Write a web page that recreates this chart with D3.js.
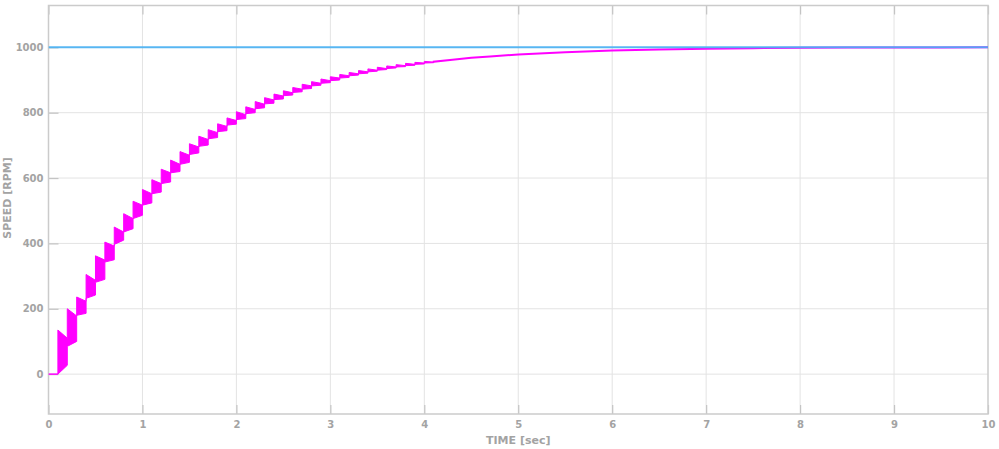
<!DOCTYPE html>
<html>
<head>
<meta charset="utf-8">
<script src="https://cdn.jsdelivr.net/npm/d3@7"></script>
<style>
  html, body { margin: 0; padding: 0; background: #fff; }
  svg { display: block; }
  text { font-family: "DejaVu Sans", Verdana, sans-serif; font-weight: bold; fill: #a3a3a3; }
</style>
</head>
<body>
<svg id="chart" width="999" height="449"></svg>
<script>
// ---- data ----
const xTicks = [0, 1, 2, 3, 4, 5, 6, 7, 8, 9, 10];
const yTicks = [0, 200, 400, 600, 800, 1000];
const xTitle = "TIME [sec]";
const yTitle = "SPEED [RPM]";

// reference (set-point) speed
const refTime = [0, 10];
const refSpeed = [1000, 1000];

// oscillating speed band: one block per control period
const blockStart = [0.1, 0.2, 0.3, 0.4, 0.5, 0.6, 0.7, 0.8, 0.9, 1.0,
                    1.1, 1.2, 1.3, 1.4, 1.5, 1.6, 1.7, 1.8, 1.9, 2.0,
                    2.1, 2.2, 2.3, 2.4, 2.5, 2.6, 2.7, 2.8, 2.9, 3.0,
                    3.1, 3.2, 3.3, 3.4, 3.5, 3.6, 3.7, 3.8, 3.9, 4.0];
const blockEnd   = [0.2, 0.3, 0.4, 0.5, 0.6, 0.7, 0.8, 0.9, 1.0, 1.1,
                    1.2, 1.3, 1.4, 1.5, 1.6, 1.7, 1.8, 1.9, 2.0, 2.1,
                    2.2, 2.3, 2.4, 2.5, 2.6, 2.7, 2.8, 2.9, 3.0, 3.1,
                    3.2, 3.3, 3.4, 3.5, 3.6, 3.7, 3.8, 3.9, 4.0, 4.1];
const topStart = [135, 200, 236, 305, 362, 404, 450, 491, 529, 565,
                  595, 627, 655, 681, 705, 728, 748, 766, 784, 803,
                  818, 834, 846, 857, 867, 877, 887, 895, 903, 910,
                  917, 923, 929, 934, 939, 943, 947, 951, 954, 957];
const topEnd   = [110, 178, 223, 287, 349, 392, 435, 476, 517, 552,
                  583, 616, 642, 670, 695, 718, 739, 758, 776, 794,
                  810, 826, 839, 851, 861, 872, 882, 890, 898, 906,
                  913, 919, 925, 930, 935, 940, 944, 948, 952, 955];
const botStart = [0, 85, 180, 232, 281, 343, 397, 435, 476, 517,
                  552, 583, 616, 642, 672, 697, 720, 742, 762, 779,
                  797, 812, 827, 840, 852, 862, 872, 882, 890, 898,
                  906, 913, 919, 925, 930, 935, 940, 944, 948, 952];
const botEnd   = [27, 100, 186, 242, 290, 350, 410, 445, 486, 524,
                  557, 588, 620, 648, 677, 701, 724, 745, 765, 782,
                  800, 815, 829, 842, 854, 864, 874, 884, 892, 900,
                  908, 915, 921, 927, 932, 937, 941, 945, 949, 953];

// idle start and settled tail of the speed
const startTime = [0, 0.1];
const startSpeed = [0, 0];
const tailTime  = [4.1, 4.3, 4.5, 4.7, 5.0, 5.5, 6.0, 6.5, 7.0, 7.5, 8.0, 8.5, 9.0, 9.5, 10];
const tailSpeed = [956, 962, 968, 972, 978, 985, 990, 993, 996, 997.5, 998.5, 999.2, 999.6, 999.8, 1000];

// ---- chart ----
const svg = d3.select("#chart");
const L = 48.5, R = 988, T = 5.5, B = 414;
const x = d3.scaleLinear().domain([0, 10]).range([L, R]);
const y = d3.scaleLinear().domain([-122, 1128]).range([B, T]);

// grid
const grid = svg.append("g");
grid.selectAll("line.gx").data(xTicks.slice(1, -1)).join("line")
  .attr("x1", d => x(d)).attr("x2", d => x(d)).attr("y1", T).attr("y2", B)
  .attr("stroke", "#e3e3e3").attr("stroke-width", 1);
grid.selectAll("line.gy").data(yTicks).join("line")
  .attr("x1", L).attr("x2", R).attr("y1", d => y(d)).attr("y2", d => y(d))
  .attr("stroke", "#e3e3e3").attr("stroke-width", 1);

// axes with inward ticks
const xAxisB = d3.axisBottom(x).tickValues(xTicks).tickSize(-9).tickPadding(7).tickFormat(d3.format("d"));
const xAxisT = d3.axisTop(x).tickValues(xTicks).tickSize(-9).tickFormat("");
const yAxisL = d3.axisLeft(y).tickValues(yTicks).tickSize(-10).tickPadding(5).tickFormat(d3.format("d"));

function style(g) {
  g.select(".domain").remove();
  g.selectAll(".tick line").attr("stroke", "#c4c4c4").attr("stroke-width", 1.2);
  g.selectAll(".tick text").attr("font-size", 10).attr("fill", "#a3a3a3")
    .attr("font-family", "'DejaVu Sans', Verdana, sans-serif").attr("font-weight", "bold");
}
svg.append("g").attr("transform", `translate(0,${B})`).call(xAxisB).call(style);
svg.append("g").attr("transform", `translate(0,${T})`).call(xAxisT).call(style);
svg.append("g").attr("transform", `translate(${L},0)`).call(yAxisL).call(style);

// frame
svg.append("rect").attr("x", L).attr("y", T).attr("width", R - L).attr("height", B - T)
  .attr("fill", "none").attr("stroke", "#cbcbcb").attr("stroke-width", 1.5);

// speed band
const band = [];
startTime.forEach((t, i) => band.push({t, lo: startSpeed[i], hi: startSpeed[i]}));
blockStart.forEach((t, i) => {
  band.push({t, lo: botStart[i], hi: topStart[i]});
  band.push({t: blockEnd[i], lo: botEnd[i], hi: topEnd[i]});
});
svg.append("clipPath").attr("id", "plotclip").append("rect")
  .attr("x", L).attr("y", T).attr("width", R - L).attr("height", B - T);
const plot = svg.append("g").attr("clip-path", "url(#plotclip)");

plot.append("path").datum(band)
  .attr("d", d3.area().x(d => x(d.t)).y0(d => y(d.lo)).y1(d => y(d.hi)))
  .attr("fill", "#ff00ff").attr("stroke", "#ff00ff").attr("stroke-width", 1).attr("stroke-linejoin", "round");

const tail = [{t: blockEnd[blockEnd.length - 1], v: (topEnd[topEnd.length - 1] + botEnd[botEnd.length - 1]) / 2}]
  .concat(tailTime.map((t, i) => ({t, v: tailSpeed[i]})));
plot.append("path").datum(tail)
  .attr("d", d3.line().x(d => x(d.t)).y(d => y(d.v)))
  .attr("fill", "none").attr("stroke", "#ff00ff").attr("stroke-width", 2);

// reference line
plot.append("path").datum(refTime.map((t, i) => ({t, v: refSpeed[i]})))
  .attr("d", d3.line().x(d => x(d.t)).y(d => y(d.v)))
  .attr("fill", "none").attr("stroke", "#47b0f3").attr("stroke-width", 2).attr("stroke-opacity", 0.9);

// titles
svg.append("text").attr("x", (L + R) / 2).attr("y", 444).attr("text-anchor", "middle")
  .attr("font-size", 11).text(xTitle);
svg.append("text").attr("transform", "translate(11,198) rotate(-90)").attr("text-anchor", "middle")
  .attr("font-size", 11).text(yTitle);
</script>
</body>
</html>
